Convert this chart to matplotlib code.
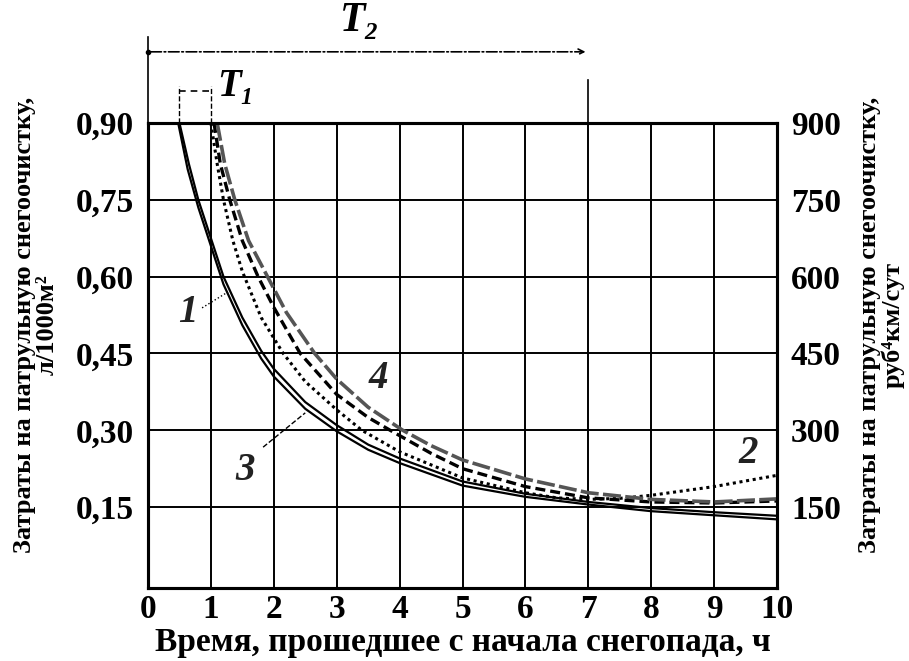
import matplotlib
matplotlib.use("Agg")
import matplotlib.pyplot as plt
import numpy as np

plt.rcParams['font.family'] = ['Liberation Serif', 'DejaVu Serif']

# ---- data ----
x_ticks = [0, 1, 2, 3, 4, 5, 6, 7, 8, 9, 10]
y_ticks = [0.15, 0.30, 0.45, 0.60, 0.75, 0.90]
y_tick_labels = ["0,15", "0,30", "0,45", "0,60", "0,75", "0,90"]
y2_ticks = [150, 300, 450, 600, 750, 900]
y2_tick_labels = ["150", "300", "450", "600", "750", "900"]

c1_x = [0.5, 0.65, 0.8, 1.0, 1.2, 1.5, 1.8, 2.0, 2.5, 3.0, 3.5, 4, 5, 6, 7, 8, 9, 10]
c1_y = [0.90, 0.82, 0.75, 0.675, 0.60, 0.52, 0.455, 0.42, 0.355, 0.31, 0.272, 0.245, 0.20, 0.176, 0.16, 0.148, 0.14, 0.133]

c3_x = [0.48, 0.63, 0.8, 1.0, 1.2, 1.5, 1.8, 2.0, 2.5, 3.0, 3.5, 4, 5, 6, 7, 8, 9, 10]
c3_y = [0.90, 0.81, 0.735, 0.66, 0.585, 0.505, 0.44, 0.405, 0.342, 0.298, 0.262, 0.236, 0.192, 0.17, 0.155, 0.142, 0.134, 0.126]

c2_x = [1.0, 1.1, 1.2, 1.35, 1.5, 1.8, 2.15, 2.5, 3.0, 3.4, 4, 5, 6, 6.5, 7, 7.5, 8, 9, 10]
c2_y = [0.90, 0.82, 0.75, 0.67, 0.61, 0.52, 0.45, 0.395, 0.34, 0.30, 0.258, 0.207, 0.178, 0.168, 0.165, 0.167, 0.173, 0.19, 0.212]

c4a_x = [1.05, 1.15, 1.3, 1.5, 1.75, 2.0, 2.42, 3.0, 3.5, 3.85, 4.5, 5, 6, 7, 8, 9, 10]
c4a_y = [0.90, 0.82, 0.75, 0.67, 0.60, 0.54, 0.45, 0.37, 0.325, 0.30, 0.255, 0.225, 0.19, 0.168, 0.16, 0.158, 0.162]

c4_x = [1.1, 1.22, 1.38, 1.6, 1.9, 2.2, 2.65, 3.0, 3.5, 4.05, 4.5, 5, 6, 7, 8, 9, 10]
c4_y = [0.90, 0.82, 0.75, 0.67, 0.60, 0.53, 0.45, 0.40, 0.345, 0.30, 0.27, 0.242, 0.205, 0.178, 0.165, 0.16, 0.166]

x_label = "Время, прошедшее с начала снегопада, ч"
y_label = "Затраты на патрульную снегоочистку,\nл/1000м²"
y2_label = "Затраты на патрульную снегоочистку,\nруб⁴км/сут"

# ---- figure ----
fig = plt.figure(figsize=(9.09, 6.61), dpi=100)
ax = fig.add_axes([148/909, 1-588/661, (777-148)/909, (588-123)/661])
ax.set_xlim(0, 10)
ax.set_ylim(-0.008, 0.90)

tfont = dict(fontsize=24, fontweight='bold')
ax.set_xticks(x_ticks)
ax.set_xticklabels([str(v) for v in x_ticks], **tfont)
ax.set_yticks(y_ticks)
ax.set_yticklabels(y_tick_labels, **tfont)
ax.tick_params(axis='y', length=0, pad=10)
ax.tick_params(axis='x', length=0, pad=4)
ax.grid(True, color='black', lw=1.4)
for s in ax.spines.values():
    s.set_linewidth(2.2)

ax2 = ax.twinx()
ax2.set_ylim(-8, 900)
ax2.set_yticks(y2_ticks)
ax2.set_yticklabels(y2_tick_labels, **tfont)
ax2.tick_params(length=0, pad=10)
for s in ax2.spines.values():
    s.set_linewidth(2.2)

# curves
ax.plot(c1_x, c1_y, color='black', lw=1.6, zorder=5)
ax.plot(c3_x, c3_y, color='black', lw=1.6, zorder=5)
ax.plot(c2_x, c2_y, color='black', lw=2.2, ls=(0, (1, 1.2)), zorder=5)
ax.plot(c4a_x, c4a_y, color='black', lw=2.4, ls=(0, (3, 1.5)), zorder=5)
ax.plot(c4_x, c4_y, color='#555555', lw=2.6, ls=(0, (5, 1.2)), zorder=5)

# curve labels
lfont = dict(fontsize=28, fontweight='bold', style='italic', color='#222222')
ax.text(0.63, 0.53, "1", ha='center', va='center', **lfont)
ax.plot([0.86, 1.27], [0.539, 0.57], color='black', lw=1, ls=':')
ax.text(1.54, 0.222, "3", ha='center', va='center', **lfont)
ax.plot([1.83, 2.5], [0.267, 0.334], color='black', lw=1, ls='--')
ax.text(3.66, 0.402, "4", ha='center', va='center', **lfont)
ax.text(9.54, 0.254, "2", ha='center', va='center', **lfont)

# T2 dimension
ax.plot([0, 0], [0.90, 1.068], color='black', lw=1.2, clip_on=False)
ax.plot([7, 7], [0.90, 0.984], color='black', lw=1.2, clip_on=False)
ax.annotate("", xy=(7, 1.039), xytext=(0, 1.039), xycoords='data',
            arrowprops=dict(arrowstyle='->', lw=1.2, ls='-.', color='black'),
            annotation_clip=False)
ax.plot([0], [1.039], marker='o', ms=3, color='black', clip_on=False)
ax.text(3.37, 1.10, "T₂", ha='center', va='center', fontsize=30,
        fontweight='bold', style='italic', clip_on=False)

# T1 dimension
ax.plot([0.5, 0.5], [0.90, 0.972], color='black', lw=1, ls='--', clip_on=False)
ax.plot([1.0, 1.0], [0.90, 0.972], color='black', lw=1, ls='--', clip_on=False)
ax.plot([0.5, 1.0], [0.962, 0.962], color='black', lw=1.2, ls=(0, (4, 3)), clip_on=False)
ax.text(1.1, 0.972, "T₁", ha='left', va='center', fontsize=28,
        fontweight='bold', style='italic', clip_on=False)

# axis labels
fig.text(463/909, 1-643/661, x_label, ha='center', va='center', fontsize=24, fontweight='bold')
fig.text(36/909, 1-325/661, y_label, ha='center', va='center', rotation=90,
         fontsize=19, fontweight='bold', linespacing=1.0)
fig.text(881/909, 1-325/661, y2_label, ha='center', va='center', rotation=90,
         fontsize=19, fontweight='bold', linespacing=1.0)

fig.savefig("out.png", dpi=100)
